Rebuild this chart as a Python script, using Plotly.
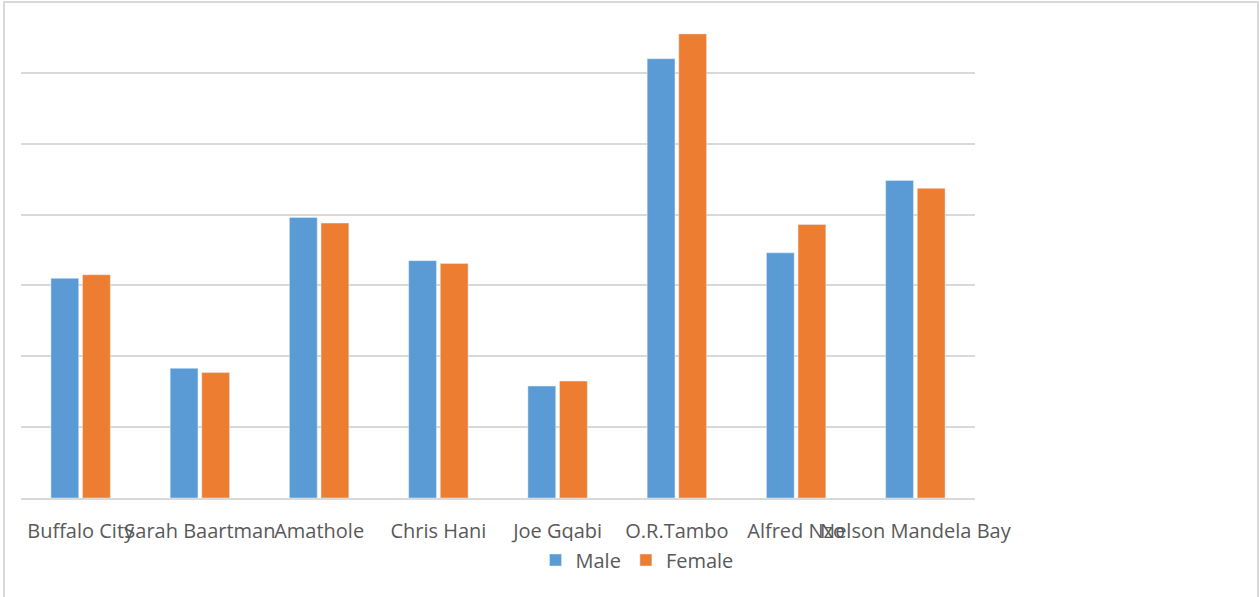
import plotly.graph_objects as go

categories = ["Buffalo City", "Sarah Baartman", "Amathole", "Chris Hani", "Joe Gqabi",
              "O.R.Tambo", "Alfred Nzo", "Nelson Mandela Bay"]
male = [3.10, 1.83, 3.96, 3.35, 1.58, 6.20, 3.46, 4.48]
female = [3.15, 1.77, 3.88, 3.31, 1.65, 6.55, 3.86, 4.37]

fig = go.Figure()
fig.add_trace(go.Bar(name="Male", x=categories, y=male, marker=dict(color="#5B9BD5")))
fig.add_trace(go.Bar(name="Female", x=categories, y=female, marker=dict(color="#ED7D31")))

W, H = 1260, 597
L, R, T, B = 21, 285, 2, 99
pw, ph = W - L - R, H - T - B

def px_x(x):
    return (x - L) / pw

def px_y(y):
    return (H - B - y) / ph

FONT = "Open Sans"

fig.update_layout(
    width=W, height=H,
    margin=dict(l=L, r=R, t=T, b=B, pad=0, autoexpand=False),
    paper_bgcolor="white", plot_bgcolor="white",
    barmode="group", bargap=0.47, bargroupgap=0.12,
    font=dict(family=FONT, color="#595959", size=20),
    showlegend=True,
    legend=dict(orientation="h", x=px_x(637), xanchor="center", y=px_y(560), yanchor="middle",
                font=dict(family=FONT, size=20, color="#595959"), traceorder="normal", itemwidth=30),
    xaxis=dict(showgrid=False, showline=True, linecolor="#d9d9d9", linewidth=2, ticks="",
               tickangle=0, automargin=False,
               ticklabelstandoff=14, tickfont=dict(family=FONT, size=20, color="#595959")),
    yaxis=dict(range=[0, 7], dtick=1, showgrid=True, gridcolor="#d9d9d9", gridwidth=2,
               showticklabels=False, zeroline=False, showline=False, automargin=False),
    shapes=[dict(type="rect", xref="paper", yref="paper",
                 x0=px_x(4), x1=px_x(1258), y0=px_y(600), y1=px_y(2),
                 line=dict(color="#d9d9d9", width=2), layer="below")],
)

fig.write_html("out.html")
